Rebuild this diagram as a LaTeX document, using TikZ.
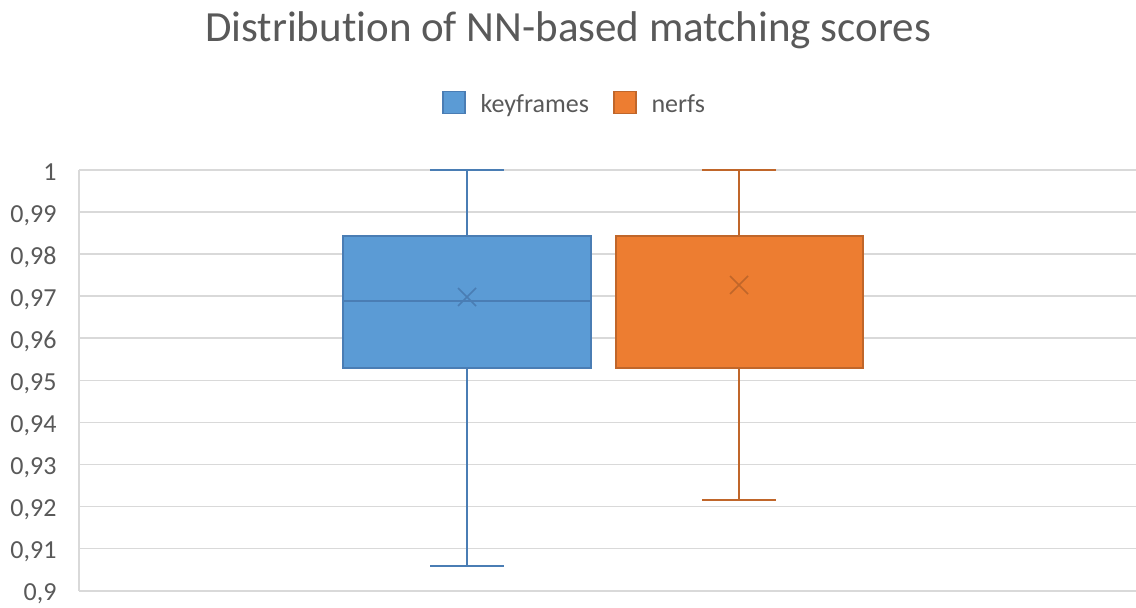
\documentclass[tikz,border=0pt]{standalone}
\usepackage{fontspec}
\setmainfont[Ligatures=NoCommon]{Carlito}
\usetikzlibrary{positioning}
\definecolor{txtgray}{HTML}{595959}
\definecolor{gridgray}{HTML}{D9D9D9}
\definecolor{kfblue}{HTML}{5B9BD5}
\definecolor{kfedge}{HTML}{4A7DB4}
\definecolor{nforange}{HTML}{ED7D31}
\definecolor{nfedge}{HTML}{C0662A}

\begin{document}
\begin{tikzpicture}[x=1pt, y=-1pt, text=txtgray,
    font=\fontsize{26}{30}\selectfont,
    gridline/.style={draw=gridgray, line width=1.6pt},
    kfbox/.style={fill=kfblue, draw=kfedge, line width=1.6pt},
    nfbox/.style={fill=nforange, draw=nfedge, line width=1.6pt},
    whisk/.style={line width=2pt},
    legkey/.style={minimum size=22pt, inner sep=0pt, line width=1.6pt}]
  \useasboundingbox (0,0) rectangle (1136,608);
  \node[anchor=base] (title) at (568,41)
    {\fontsize{43}{48}\selectfont Distribution of NN-based matching scores};
  % legend
  \node[legkey, fill=kfblue, draw=kfedge] (kfkey) at (454,102.5) {};
  \node[anchor=base west] (kflab) at (477,112) {keyframes};
  \node[legkey, fill=nforange, draw=nfedge] (nfkey) at (625,102.5) {};
  \node[anchor=base west] (nflab) at (648,112) {nerfs};
  % grid and value axis
  \draw[gridline] (79,170) -- (79,590.7);
  \foreach \i/\lab in {0/1, 1/{0,99}, 2/{0,98}, 3/{0,97}, 4/{0,96}, 5/{0,95},
                       6/{0,94}, 7/{0,93}, 8/{0,92}, 9/{0,91}, 10/{0,9}} {
    \draw[gridline] (79,170+42.07*\i) -- (1136,170+42.07*\i);
    \node[anchor=base east] at (60,180+42.07*\i) {\lab};
  }
  % keyframes
  \coordinate (kftop) at (467,170);
  \coordinate (kfbot) at (467,566);
  \draw[whisk, kfedge] (kftop) -- (467,236) (467,368) -- (kfbot);
  \draw[whisk, kfedge] ([xshift=-37pt]kftop) -- ([xshift=37pt]kftop);
  \draw[whisk, kfedge] ([xshift=-37pt]kfbot) -- ([xshift=37pt]kfbot);
  \draw[kfbox] (343,236) rectangle (591,368);
  \draw[kfedge, line width=1.6pt] (343,301) -- (591,301);
  \coordinate (kfmean) at (467,297);
  \draw[kfedge, line width=1.6pt] ([shift={(-9,-9)}]kfmean) -- ([shift={(9,9)}]kfmean)
    ([shift={(-9,9)}]kfmean) -- ([shift={(9,-9)}]kfmean);
  % nerfs
  \coordinate (nftop) at (739,170);
  \coordinate (nfbot) at (739,500);
  \draw[whisk, nfedge] (nftop) -- (739,236) (739,368) -- (nfbot);
  \draw[whisk, nfedge] ([xshift=-37pt]nftop) -- ([xshift=37pt]nftop);
  \draw[whisk, nfedge] ([xshift=-37pt]nfbot) -- ([xshift=37pt]nfbot);
  \draw[nfbox] (616,236) rectangle (863,368);
  \coordinate (nfmean) at (739,285);
  \draw[nfedge, line width=1.6pt] ([shift={(-9,-9)}]nfmean) -- ([shift={(9,9)}]nfmean)
    ([shift={(-9,9)}]nfmean) -- ([shift={(9,-9)}]nfmean);
\end{tikzpicture}
\end{document}
